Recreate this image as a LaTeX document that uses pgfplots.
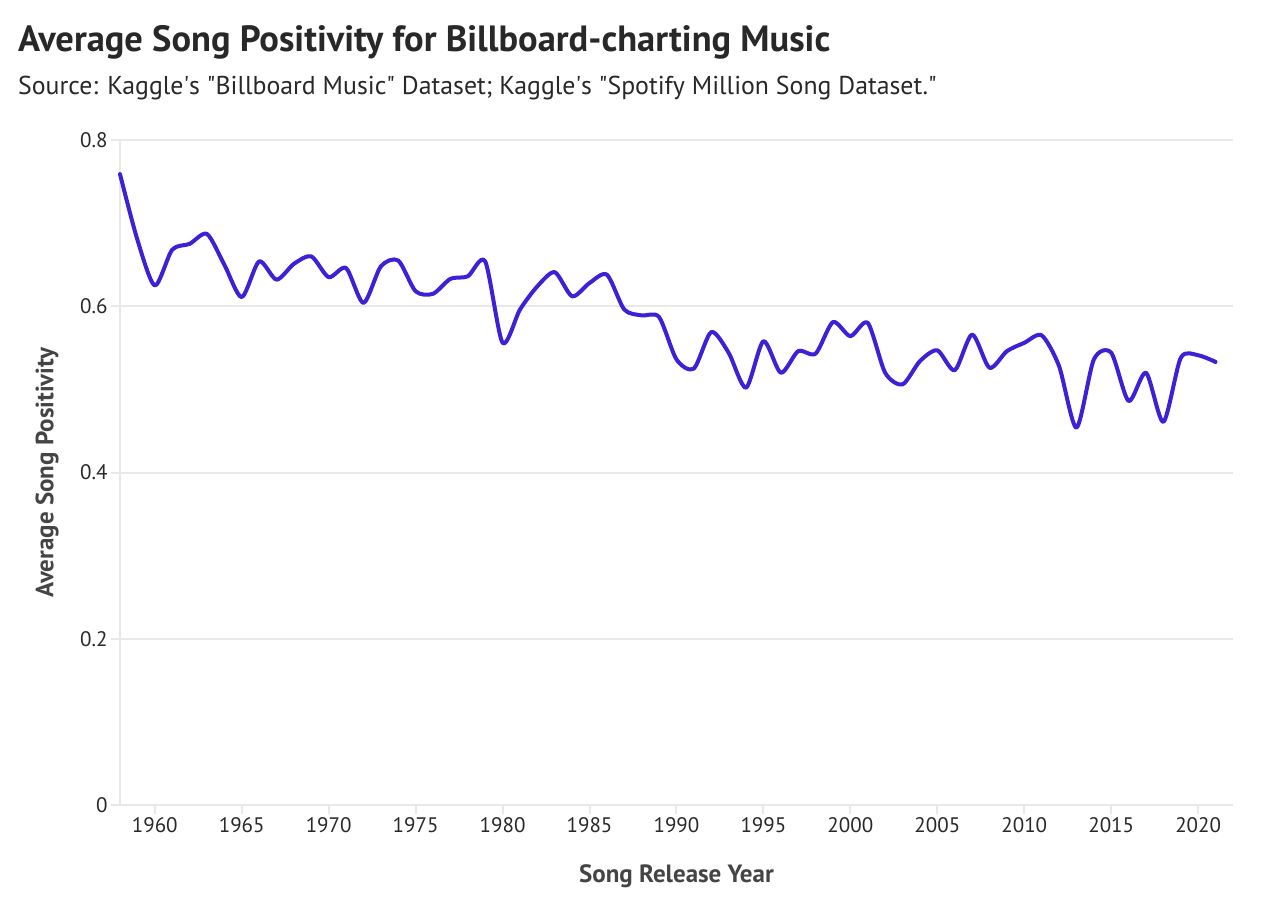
\documentclass[border=0pt]{standalone}
\usepackage{fontspec}
\setmainfont{PT Sans}
\usepackage{pgfplots}
\pgfplotsset{compat=1.18}
\definecolor{linec}{RGB}{62,32,214}
\definecolor{gridc}{RGB}{232,232,232}
\definecolor{txt}{RGB}{40,40,40}
\definecolor{lab}{RGB}{68,68,68}
\begin{document}
\begin{tikzpicture}[x=1pt,y=1pt]
\path[use as bounding box] (0,0) rectangle (1272,919);
\node[anchor=base west, inner sep=0, text=txt] at (18,867) {\fontsize{36.5}{42}\selectfont\bfseries Average Song Positivity for Billboard-charting Music};
\node[anchor=base west, inner sep=0, text=txt] at (18,824) {\fontsize{25.8}{32}\selectfont Source: Kaggle\textquotesingle s \textquotedbl Billboard Music\textquotedbl{} Dataset; Kaggle\textquotesingle s \textquotedbl Spotify Million Song Dataset.\textquotedbl};
\begin{axis}[
  at={(120pt,114pt)}, anchor=south west,
  scale only axis, width=1113pt, height=665pt,
  xmin=1958, xmax=2022, ymin=0, ymax=0.8,
  axis x line*=bottom, axis y line*=left,
  axis line style={draw=gridc, line width=2pt},
  xtick={1960,1965,...,2020},
  ytick={0,0.2,0.4,0.6,0.8},
  yticklabels={0,0.2,0.4,0.6,0.8},
  ymajorgrids, grid style={draw=gridc, line width=2pt},
  tick align=outside, major tick length=9pt,
  tick style={draw=gridc, line width=2pt},
  /pgf/number format/1000 sep={},
  /pgf/number format/assume math mode=true,
  ticklabel style={font=\fontsize{21}{24}\selectfont, text=txt},
  xlabel={Song Release Year}, ylabel={Average Song Positivity},
  xlabel style={at={(axis description cs:0.5,0)}, anchor=center, yshift=-71pt, font=\fontsize{25}{30}\selectfont\bfseries, text=lab},
  ylabel style={at={(axis description cs:0,0.5)}, anchor=center, yshift=73pt, font=\fontsize{25}{30}\selectfont\bfseries, text=lab},
  clip=false,
]
\addplot[linec, line width=4pt, smooth, tension=0.45, no marks, line join=round, line cap=round] coordinates {
(1958,0.759) (1959,0.680) (1960,0.625) (1961,0.668) (1962,0.675) (1963,0.687)
(1964,0.650) (1965,0.611) (1966,0.654) (1967,0.632) (1968,0.651) (1969,0.660)
(1970,0.635) (1971,0.646) (1972,0.604) (1973,0.648) (1974,0.655) (1975,0.618)
(1976,0.615) (1977,0.633) (1978,0.636) (1979,0.654) (1980,0.556) (1981,0.596)
(1982,0.624) (1983,0.641) (1984,0.612) (1985,0.628) (1986,0.638) (1987,0.596)
(1988,0.589) (1989,0.587) (1990,0.536) (1991,0.525) (1992,0.569) (1993,0.544)
(1994,0.502) (1995,0.558) (1996,0.520) (1997,0.546) (1998,0.543) (1999,0.581)
(2000,0.564) (2001,0.580) (2002,0.520) (2003,0.506) (2004,0.534) (2005,0.547)
(2006,0.523) (2007,0.566) (2008,0.526) (2009,0.546) (2010,0.556) (2011,0.565)
(2012,0.528) (2013,0.454) (2014,0.536) (2015,0.544) (2016,0.486) (2017,0.520)
(2018,0.461) (2019,0.538) (2020,0.541) (2021,0.533)
};
\end{axis}
\end{tikzpicture}
\end{document}
